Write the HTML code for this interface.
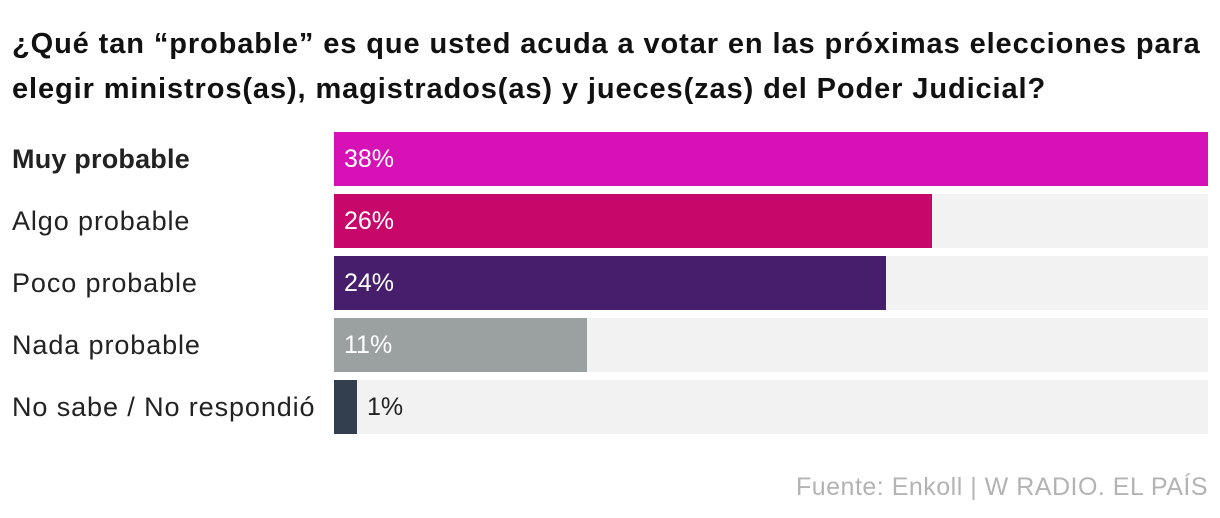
<!DOCTYPE html>
<html><head><meta charset="utf-8"><style>
body{margin:0;width:1220px;height:518px;background:#fff;font-family:"Liberation Sans",sans-serif;overflow:hidden;position:relative}
#title{position:absolute;left:12px;top:22px;font-size:29px;font-weight:bold;line-height:45px;color:#111;letter-spacing:0.9px;white-space:nowrap}
.lab{position:absolute;left:12px;font-size:27px;color:#222;line-height:54px;letter-spacing:0.9px}
.track{position:absolute;left:334px;width:874px;height:54px;background:#f2f2f2}
.bar{position:absolute;left:334px;height:54px}
.val{position:absolute;font-size:25px;line-height:54px}
#src{position:absolute;right:12px;top:473px;font-size:25px;color:#b3b3b3;letter-spacing:0.5px}
</style></head><body>
<div id="title">¿Qué tan “probable” es que usted acuda a votar en las próximas elecciones para<br>elegir ministros(as), magistrados(as) y jueces(zas) del Poder Judicial?</div>
<div id="chart"></div>
<div id="src">Fuente: Enkoll | W RADIO. EL PAÍS</div>
<script>
const categories=["Muy probable","Algo probable","Poco probable","Nada probable","No sabe / No respondió"];
const values=[38,26,24,11,1];
const colors=["#d612b6","#c8076a","#461e6c","#9aa1a0","#333f4e"];
const maxV=38,x0=334,W=874,y0=132,step=62;
const c=document.getElementById('chart');
function xs(v){return v/maxV*W;}
categories.forEach((cat,i)=>{
  const y=y0+i*step;
  const l=document.createElement('div');l.className='lab';l.style.top=y+'px';l.textContent=cat;
  if(i===0){l.style.fontWeight='bold';l.style.letterSpacing='0.2px';}
  
  
  c.appendChild(l);
  const t=document.createElement('div');t.className='track';t.style.top=y+'px';
  
  
  c.appendChild(t);
  const b=document.createElement('div');b.className='bar';b.style.top=y+'px';b.style.width=xs(values[i])+'px';b.style.background=colors[i];
  
  
  c.appendChild(b);
  const v=document.createElement('div');v.className='val';v.style.top=y+'px';v.textContent=values[i]+'%';
  const w=xs(values[i]);
  if(w>60){v.style.left=(x0+10)+'px';v.style.color='#fff';}else{v.style.left=(x0+w+10)+'px';v.style.color='#222';}
  
  
  c.appendChild(v);
});
</script>
</body></html>
